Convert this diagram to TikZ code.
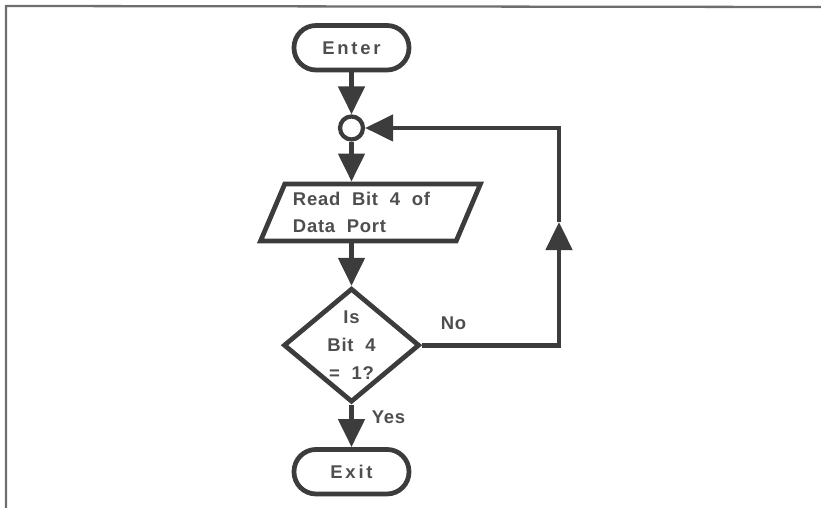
\documentclass[tikz,border=0pt]{standalone}
\usepackage{fontspec}
\setmainfont{Liberation Sans}
\newfontfamily\chartfont[LetterSpace=4,WordSpace=2.0]{Liberation Sans}
\newfontfamily\termfont[LetterSpace=15]{Liberation Sans}
\usetikzlibrary{shapes.geometric,arrows.meta,positioning}
\definecolor{ink}{RGB}{60,60,60}
\definecolor{type}{RGB}{78,78,78}
\definecolor{rule}{RGB}{110,110,110}

\newcommand{\flowfont}{\chartfont\bfseries\fontsize{10.5}{15}\selectfont}

\tikzset{
  box/.style={draw=ink, line width=2.7pt, text=type, font=\flowfont},
  terminal/.style={box, rectangle, rounded corners=0.44cm, minimum width=2.3cm, minimum height=0.89cm, font=\termfont\bfseries\fontsize{10.5}{12}\selectfont},
  junction/.style={draw=ink, line width=2.4pt, circle, minimum size=0.46cm, inner sep=0pt},
  io/.style={box, trapezium, trapezium left angle=67, trapezium right angle=113, trapezium stretches=true, minimum width=4.4cm, minimum height=1.14cm, text width=3.1cm, align=flush left, inner xsep=0pt},
  decision/.style={box, diamond, aspect=1.2, minimum width=2.72cm, minimum height=2.28cm, inner sep=0pt, align=center, font=\flowfont\fontsize{10.5}{15.8}\selectfont},
  flow/.style={draw=ink, line width=2.7pt, -{Triangle[width=0.52cm,length=0.56cm]}},
  tag/.style={text=type, font=\flowfont}
}

\begin{document}
\begin{tikzpicture}
\useasboundingbox (0,0) rectangle (16.42,-10.16);
% frame
\draw[rule, line width=1.3pt] (0.12,-10.16) -- (0.12,-0.12) -- (16.42,-0.14);

% nodes
\node[terminal] (enter) at (7.03,-0.955) {Enter};
\node[junction, below=0.84cm of enter] (join) {};
\node[io, below=0.80cm of join, xshift=0.38cm] (read) {Read Bit 4 of\\Data Port};
\node[decision, below=0.85cm of read, xshift=-0.38cm] (test) {Is\\Bit 4\\= 1?};
\node[terminal, below=0.85cm of test] (exit) {Exit};
\coordinate (riser) at (11.18,-4.44);

% connectors
\draw[flow] (enter) -- (join);
\draw[flow] (join) -- (join |- read.north);
\draw[flow] (read.south -| test) -- (test);
\draw[flow] (test) -- (exit);
\draw[flow] (test.east) -| (riser);
\draw[flow] (riser) |- (join);

% branch labels
\node[tag] (no) at (9.07,-6.46) {No};
\node[tag] (yes) at (7.77,-8.34) {Yes};
\end{tikzpicture}
\end{document}
